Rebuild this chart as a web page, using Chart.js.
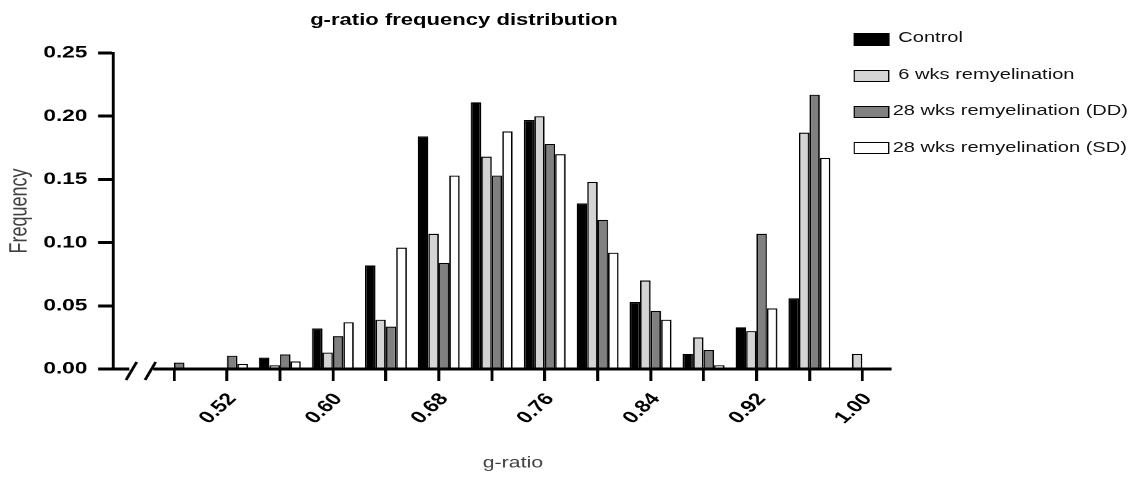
<!DOCTYPE html>
<html>
<head>
<meta charset="utf-8">
<title>g-ratio frequency distribution</title>
<script src="https://cdn.jsdelivr.net/npm/chart.js@4.4.1/dist/chart.umd.min.js"></script>
<style>
  body { margin: 0; background: #fff; overflow: hidden; }
  /* the reference figure is stretched sideways, so the whole drawing is too */
  #wrap { position: relative; width: 853px; height: 477px; transform: scaleX(1.3294); transform-origin: 0 0;
          font-family: "Liberation Sans", Arial, sans-serif; }
  #chart { display: block; }
  #title { position: absolute; left: 0; width: 698px; top: 10px; line-height: 20px; text-align: center;
           font-weight: bold; font-size: 16.6px; color: #000; }
  .key { position: absolute; left: 642.4px; width: 27px; height: 12.4px; box-sizing: border-box; border: 1.3px solid #000; }
  .keytxt { position: absolute; left: 671.5px; line-height: 20px; font-size: 15.1px; white-space: pre; color: #111; }
</style>
</head>
<body>
<div id="wrap">
  <canvas id="chart"></canvas>
  <div id="title">g-ratio frequency distribution</div>
  <div id="legend"></div>
</div>
<script>
// histogram bins (g-ratio) and the labels under the ticks
const binCentres = [0.48, 0.52, 0.56, 0.60, 0.64, 0.68, 0.72, 0.76, 0.80, 0.84, 0.88, 0.92, 0.96, 1.00];
const tickLabels = ['', '0.52', '', '0.60', '', '0.68', '', '0.76', '', '0.84', '', '0.92', '', '1.00'];

const seriesNames = [' Control', ' 6 wks remyelination', '28 wks remyelination (DD)', '28 wks remyelination (SD)'];

// frequency per bin
const control = [0, 0.001, 0.009, 0.032, 0.082, 0.184, 0.211, 0.197, 0.131, 0.053, 0.012, 0.033, 0.056, 0.001];
const wks6    = [0, 0, 0.003, 0.013, 0.039, 0.107, 0.168, 0.200, 0.148, 0.070, 0.025, 0.030, 0.187, 0.012];
const wks28DD = [0.005, 0.0105, 0.0115, 0.026, 0.0335, 0.084, 0.153, 0.178, 0.118, 0.046, 0.015, 0.107, 0.217, 0.001];
const wks28SD = [0, 0.004, 0.006, 0.037, 0.096, 0.153, 0.188, 0.170, 0.092, 0.039, 0.003, 0.048, 0.167, 0];

const fills = ['#000000', '#d4d4d4', '#808080', '#ffffff'];
const font = '"Liberation Sans", Arial, sans-serif';

var seriesValues = [control, wks6, wks28DD, wks28SD];
var datasets = seriesValues.map((vals, k) => ({
  label: seriesNames[k].trim(),
  data: vals.map((v, i) => ({x: binCentres[i], y: v})),
  backgroundColor: fills[k],
  borderColor: '#000',
  borderWidth: 1.2,
  categoryPercentage: 0.79,
  barPercentage: 1
}));

// white gap + two slashes on the x axis, the slanted tick labels and the x axis title
const axisBreak = {
  id: 'axisBreak',
  afterDraw(chart) {
    const {ctx, chartArea: a, scales: {x}} = chart;
    const y0 = a.bottom;
    ctx.save();
    ctx.fillStyle = '#fff';
    ctx.fillRect(a.left + 12, y0 - 3, 18, 6);
    ctx.strokeStyle = '#000';
    ctx.lineWidth = 2.2;
    [9.6, 23.9].forEach(dx => {
      ctx.beginPath();
      ctx.moveTo(a.left + dx, y0 + 11);
      ctx.lineTo(a.left + dx + 8, y0 - 7);
      ctx.stroke();
    });

    ctx.fillStyle = '#000';
    ctx.font = 'bold 17px ' + font;
    ctx.textAlign = 'right';
    ctx.textBaseline = 'middle';
    tickLabels.forEach((lab, i) => {
      if (!lab) return;
      ctx.save();
      ctx.translate(x.getPixelForValue(binCentres[i]) + 4, y0 + 27);
      ctx.rotate(-50 * Math.PI / 180);
      ctx.fillText(lab, 0, 0);
      ctx.restore();
    });

    const mid = (x.getPixelForValue(binCentres[0]) + x.getPixelForValue(binCentres[binCentres.length - 1])) / 2 - 4;
    ctx.fillStyle = '#404040';
    ctx.font = '16px ' + font;
    ctx.textAlign = 'center';
    ctx.fillText('g-ratio', mid, 463);
    ctx.restore();
  }
};

new Chart(document.getElementById('chart'), {
  type: 'bar',
  data: {datasets: datasets},
  options: {
    responsive: true,
    maintainAspectRatio: false,
    animation: false,
    devicePixelRatio: 2,
    layout: {padding: {left: 0, top: 53, right: 183.5, bottom: 0}},
    plugins: {legend: {display: false}, title: {display: false}, tooltip: {enabled: false}},
    scales: {
      x: {
        type: 'linear',
        bounds: 'data',
        offset: false,
        min: 0.4341,
        max: 1.0209,
        afterBuildTicks: s => { s.ticks = binCentres.map(v => ({value: v})); },
        afterFit: s => { s.height = 108; },
        ticks: {display: false},
        grid: {display: true, offset: false, drawOnChartArea: false, drawTicks: true, tickLength: 12, lineWidth: 2.2, color: '#000'},
        border: {display: true, width: 3, color: '#000'}
      },
      y: {
        min: 0,
        max: 0.25,
        afterFit: s => { s.width = 85.2; },
        ticks: {
          stepSize: 0.05, padding: 8,
          callback: v => v.toFixed(2),
          color: '#000', font: {family: font, size: 17, weight: 'bold'}
        },
        grid: {display: true, drawOnChartArea: false, drawTicks: true, tickLength: 11.5, lineWidth: 3, color: '#000'},
        border: {display: true, width: 2.3, color: '#000'},
        title: {display: true, text: 'Frequency', color: '#404040', font: {family: font, size: 18}, padding: {top: 4.2, bottom: 0}}
      }
    }
  },
  plugins: [axisBreak]
});

// legend on the right, built from the series
var legend = document.getElementById('legend');
seriesNames.forEach((name, k) => {
  var box = document.createElement('div');
  box.className = 'key';
  box.style.top = (33.3 + 36.2 * k) + 'px';
  box.style.background = fills[k];
  legend.appendChild(box);
  var txt = document.createElement('div');
  txt.className = 'keytxt';
  txt.style.top = (27 + 36.6 * k) + 'px';
  txt.textContent = name;
  legend.appendChild(txt);
});
</script>
</body>
</html>
